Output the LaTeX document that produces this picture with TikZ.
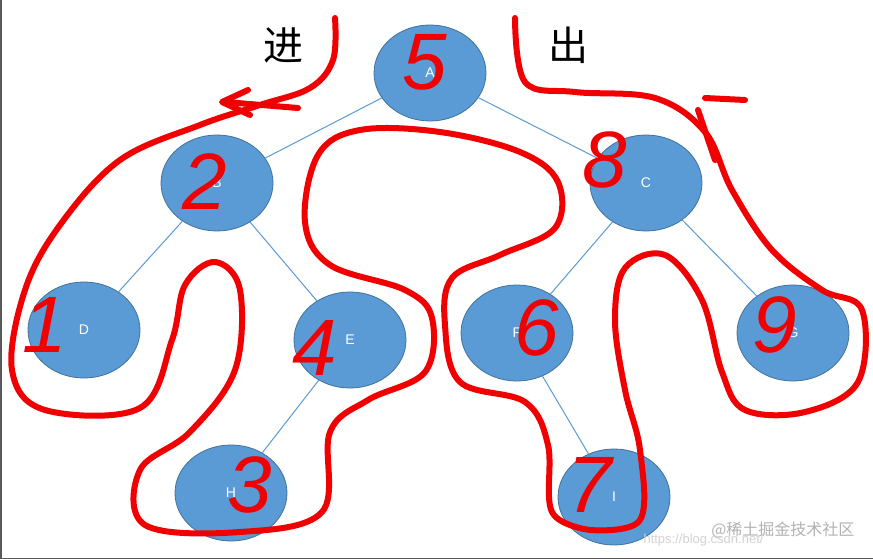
\documentclass[tikz,border=0pt]{standalone}
\usepackage{fontspec}
\setmainfont{Liberation Sans}
\newfontfamily\cjk{Noto Sans CJK SC}
\usetikzlibrary{shapes.geometric}
\definecolor{nodefill}{HTML}{5B9BD5}
\definecolor{nodeline}{HTML}{41719C}
\definecolor{edgec}{HTML}{5B9BD5}
\definecolor{scrib}{HTML}{F00000}
\tikzset{
  tn/.style={ellipse, fill=nodefill, draw=nodeline, line width=0.8pt, minimum width=112pt, minimum height=96pt, inner sep=0pt, text=white, font=\fontsize{14}{14}\selectfont},
  ed/.style={draw=edgec, line width=1pt},
  rd/.style={draw=scrib, line width=6pt, line cap=round, line join=round},
  num/.style={text=scrib, font=\fontsize{80}{80}\selectfont\itshape},
  han/.style={font=\cjk\fontsize{40}{40}\selectfont}
}
\begin{document}
\begin{tikzpicture}[x=1pt,y=-1pt]
\useasboundingbox (0,0) rectangle (873,559);
\fill[white] (0,0) rectangle (873,559);
\draw[gray!70!black, line width=3pt] (0,0) -- (0,559) -- (873,559);
\node[tn] (A) at (430,73) {A};
\node[tn] (B) at (217,183) {B};
\node[tn] (C) at (646,183) {C};
\node[tn] (D) at (84,330) {D};
\node[tn] (E) at (350,340) {E};
\node[tn] (F) at (517,333) {F};
\node[tn] (G) at (793,333) {G};
\node[tn] (H) at (231,493) {H};
\node[tn] (I) at (614,497) {I};
\draw[ed] (A) -- (B); \draw[ed] (A) -- (C);
\draw[ed] (B) -- (D); \draw[ed] (B) -- (E);
\draw[ed] (E) -- (H);
\draw[ed] (C) -- (F); \draw[ed] (C) -- (G);
\draw[ed] (F) -- (I);
\node[han] (jin) at (283,45) {进};
\node[han] (chu) at (568,45) {出};
% red scribbles
\draw[rd] plot[smooth, tension=0.6] coordinates {(335,18) (333,60) (310,88) (260,105) (200,125) (120,160) (60,225) (25,290) (12,370) (45,410) (140,408) (172,340) (185,285) (215,262) (240,290) (235,370) (190,432) (140,470) (145,525) (240,532) (322,512) (330,432) (368,400) (425,372) (432,318) (405,290) (330,265) (305,222) (318,155) (360,130) (440,132) (520,152) (558,182) (555,228) (500,255) (452,278) (445,325) (460,382) (525,402) (548,445) (552,512) (590,530)};
\draw[rd] plot[smooth, tension=0.6] coordinates {(590,530) (640,520) (640,450) (625,390) (615,320) (625,268) (665,255) (702,300) (722,372) (745,410) (805,412) (858,382) (862,310) (822,290) (772,250) (732,190) (705,132) (655,98) (575,92) (525,82) (515,18)};
\draw[rd] (298,108) -- (225,102);
\draw[rd] (248,90) -- (222,102) -- (250,115);
\draw[rd] (705,98) -- (745,100);
\draw[rd] (698,110) -- (715,160);
\node[num] (n5) at (425,62) {5};
\node[num] (n2) at (205,182) {2};
\node[num] (n1) at (45,325) {1};
\node[num] (n4) at (315,348) {4};
\node[num] (n3) at (250,485) {3};
\node[num] (n6) at (537,328) {6};
\node[num] (n7) at (590,485) {7};
\node[num] (n8) at (605,160) {8};
\node[num] (n9) at (775,325) {9};
\node[text=gray!60, font=\cjk\fontsize{16}{16}\selectfont, anchor=east] (wm) at (858,530) {@稀土掘金技术社区};
\node[text=gray!35, font=\fontsize{13}{13}\selectfont, anchor=west] (url) at (640,540) {https://blog.csdn.net/};
\end{tikzpicture}
\end{document}
